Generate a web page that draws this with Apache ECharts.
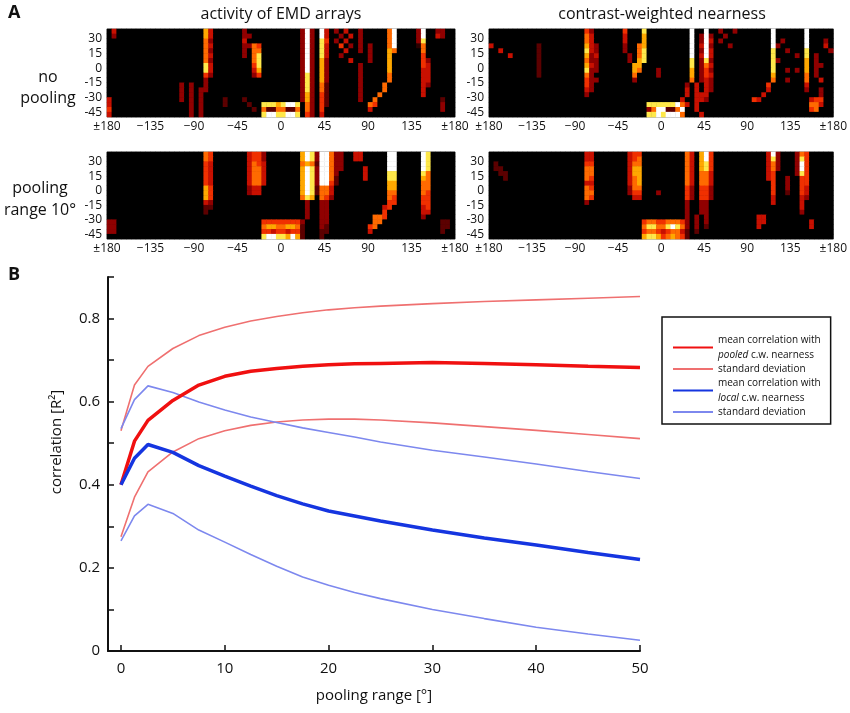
<!DOCTYPE html>
<html>
<head>
<meta charset="utf-8">
<script src="https://cdn.jsdelivr.net/npm/echarts@6/dist/echarts.min.js"></script>
<style>
  html, body { margin: 0; padding: 0; background: #fff; }
  #main { width: 850px; height: 713px; }
</style>
</head>
<body>
<div id="main"></div>
<script>
// ===== panel A: activity maps, one digit per 5x5 deg cell (0 = black ... 9 = white) =====
// columns: azimuth -180 .. 180 (groups of 9 cells = 45 deg), rows: elevation 40 (top) .. -50
var emdNoPool = [
  '040000000 000000000 007400000 030000000 000039309 403040030 000069000 039003300',
  '030000000 000000000 007400000 033000000 000039309 400304030 000069000 039004300',
  '000000000 000000000 006300000 040000000 000039308 503040030 000069000 038000000',
  '000000000 000000000 006400000 033650000 000039308 400503030 300069000 016000000',
  '000000000 000000000 006300000 030660000 000039308 400040030 300076000 006000000',
  '000000000 000000000 006400000 030680000 000039308 400300000 300070000 005000000',
  '000000000 000000000 006300000 000680000 000039307 300004000 300070000 005300000',
  '000000000 000000000 008400000 000580000 000039307 300000030 000070000 005400000',
  '000000000 000000000 008400000 000470000 000039307 300000030 000070000 004400000',
  '000000000 000000000 005300000 000350000 000038307 300000030 000060000 004400000',
  '000000000 000000000 003000000 000000000 000038307 300000030 000060000 004400000',
  '000000000 000000303 003000000 000000000 000038306 200000030 000600000 004300000',
  '000000000 000000303 033000000 000000000 000038306 200000030 000600000 004000000',
  '000000000 000000303 030000000 000000000 000037305 200000030 006000000 004000000',
  '400000000 000000303 030000200 020000000 000037305 200000030 060000000 000000200',
  '400000000 000000003 030000200 002008887 899806305 200000000 650000000 000000300',
  '500000000 000000003 030000000 000206226 622606305 000000000 400000000 000000300',
  '400000000 000000003 030000000 000008998 899805304 000000000 000000000 000000000'
];
var cwnNoPool = [
  '000000000 000000000 005300000 050008000 000000900 900300300 000009000 000900000',
  '000000000 000000000 006400000 040007000 000000903 930030000 000009000 000900000',
  '000000000 000000000 006400000 040007000 000000903 940300000 000009030 000900030',
  '400000000 020000000 007430000 030067000 000000904 930003000 000009300 000900040',
  '004000000 020000000 008430000 030068000 000000903 940000000 000008003 000800003',
  '000040000 020000000 007340000 003068000 000000904 940000000 000008000 030803000',
  '000000000 020000000 006330000 003078000 000000803 830000000 000008300 000703000',
  '000000000 020000000 007430000 000770000 000000803 640000000 000008000 000703300',
  '000000000 020000000 008330000 000760003 000000703 530000000 000008003 030703000',
  '000000000 020000000 006300000 000600003 000000703 540000000 000007000 000603000',
  '000000000 000000000 005330000 000300000 000000603 430000000 000006003 000600400',
  '000000000 000000000 005300000 000000000 000003040 430000000 000050000 000400000',
  '000000000 000000000 004300000 000000000 000004040 430000000 000040000 000300300',
  '000000000 000000000 003000000 000000000 000004044 400000000 000400000 000000300',
  '000000000 000000000 000000000 000000000 000040044 300000000 054000000 000045500',
  '000000000 000000000 000000000 000000888 888964040 000000000 000000000 000066400',
  '000000000 000000000 000000000 000000369 922690040 000000000 000000000 000056000',
  '000000000 000000000 000000000 000000889 899960004 000000000 000000000 000000000'
];
var emdPooled = [
  '000000000 000000000 006500000 004553000 000079839 963300440 000099000 009800000',
  '000000000 000000000 006500000 004553000 000079839 963300440 000099000 009800000',
  '000000000 000000000 005400000 004654000 000067629 963300000 000099000 009800000',
  '000000000 000000000 005400000 004664000 000079839 963300004 000099000 009800000',
  '000000000 000000000 005400000 004664000 000079839 963000004 000088000 008600000',
  '000000000 000000000 005400000 004664000 000079839 962000004 000088000 007600000',
  '000000000 000000000 005400000 004664000 000079839 952000000 000077000 006600000',
  '000000000 000000000 007500000 003440000 000079826 640000000 000077000 006600000',
  '000000000 000000000 007500000 003440000 000079826 640000000 000066000 006500000',
  '000000000 000000000 007500000 000000000 000068706 530000000 000065000 005500000',
  '000000000 000000000 004300000 000000000 000003003 300000000 000055000 005500000',
  '000000000 000000000 002200000 000000000 000003003 300000000 000450000 004500000',
  '000000000 000000000 002000000 000000000 000003003 300000000 000500000 004400000',
  '000000000 000000000 000000000 000000000 000003003 300000000 066500000 003000000',
  '330000000 000000000 000000000 000005555 555530003 300000000 066000000 000000220',
  '330000000 000000000 000000000 000006776 677620003 200000000 560000000 000000220',
  '330000000 000000000 000000000 000005545 545520002 200000000 400000000 000000200',
  '000000000 000000000 000000000 000008998 879720002 000000000 000000000 000000000'
];
var cwnPooled = [
  '000000000 000000000 004400000 004550000 000006407 950000000 000049300 036500000',
  '000000000 000000000 004400000 004560000 000006407 950000000 000048300 038500000',
  '020000000 000000000 005500000 004660000 000006407 850000000 000046300 039500000',
  '022000000 000000000 006600000 004770000 000006407 850000000 000046300 039500000',
  '002200000 000000000 006600000 004770000 000006406 640000000 000045000 038500000',
  '000200000 000000000 006500000 004670000 000006406 640000000 000045003 005500000',
  '000000000 000000000 004400000 004670000 000006406 640000000 000005003 005500000',
  '000000000 000000000 006500000 003660000 000005305 530000000 000005003 005400000',
  '000000000 000000000 006600000 003550003 000005305 530000000 000005002 005400000',
  '000000000 000000000 006500000 000440000 000005305 530000000 000004000 004300000',
  '000000000 000000000 003000000 000000000 000003003 300000000 000004000 004000000',
  '000000000 000000000 000000000 000000000 000003003 300000000 000000000 004000000',
  '000000000 000000000 000000000 000000000 000003003 300000000 000000000 003000000',
  '000000000 000000000 000000000 000000000 000003030 300000000 004400000 000000000',
  '000000000 000000000 000000000 000005665 566653030 300000000 004400000 000040000',
  '000000000 000000000 000000000 000006886 689863030 200000000 004000000 000040000',
  '000000000 000000000 000000000 000005665 456642020 000000000 000000000 000000000',
  '000000000 000000000 000000000 000007887 567652000 000000000 000000000 000000000'
];
var lonTicks = [-180, -135, -90, -45, 0, 45, 90, 135, 180];
var lonLabels = ['\u00b1180', '\u2212135', '\u221290', '\u221245', '0', '45', '90', '135', '\u00b1180'];
var latTicks = [-45, -30, -15, 0, 15, 30];
var latLabels = ['-45', '-30', '-15', '0', '15', '30'];

// ===== panel B: correlation vs pooling range =====
var poolRange   = [0, 1.3, 2.6, 5, 7.5, 10, 12.5, 15, 17.5, 20, 22.5, 25, 30, 35, 40, 45, 50];
var pooledMean  = [0.400, 0.505, 0.555, 0.603, 0.640, 0.661, 0.673, 0.680, 0.685, 0.689, 0.691, 0.692, 0.694, 0.692, 0.689, 0.685, 0.682];
var pooledUpper = [0.530, 0.640, 0.685, 0.728, 0.759, 0.779, 0.794, 0.805, 0.814, 0.821, 0.826, 0.830, 0.836, 0.841, 0.845, 0.849, 0.853];
var pooledLower = [0.275, 0.370, 0.431, 0.479, 0.511, 0.530, 0.543, 0.551, 0.556, 0.558, 0.558, 0.556, 0.549, 0.540, 0.531, 0.521, 0.511];
var localMean   = [0.400, 0.464, 0.497, 0.478, 0.446, 0.421, 0.397, 0.374, 0.354, 0.337, 0.325, 0.313, 0.291, 0.272, 0.255, 0.237, 0.220];
var localUpper  = [0.535, 0.605, 0.638, 0.622, 0.599, 0.580, 0.563, 0.550, 0.537, 0.526, 0.515, 0.503, 0.483, 0.467, 0.450, 0.432, 0.415];
var localLower  = [0.265, 0.325, 0.353, 0.331, 0.291, 0.262, 0.232, 0.204, 0.178, 0.158, 0.141, 0.126, 0.100, 0.078, 0.057, 0.041, 0.026];
var poolTicks = [0, 10, 20, 30, 40, 50];
var corrLabelTicks = [0, 0.2, 0.4, 0.6, 0.8];

var FONT = '"Open Sans", "Noto Sans", sans-serif';
var hotColors = ['#000000', '#2a0000', '#5c0000', '#900000', '#c81000', '#f03000', '#ff6a00', '#ffa800', '#ffe84a', '#ffffff'];

function cells(rows) {
  var out = [];
  rows.forEach(function (row, r) {
    var s = row.replace(/ /g, '');
    for (var c = 0; c < s.length; c++) {
      out.push([c, rows.length - 1 - r, +s[c]]);
    }
  });
  return out;
}
function pairs(xs, ys) {
  return xs.map(function (x, i) { return [x, ys[i]]; });
}

var colIdx = [], rowIdx = [];
for (var c = 0; c < 72; c++) colIdx.push(c);
for (var r = 0; r < 18; r++) rowIdx.push(r);

var maps = [emdNoPool, cwnNoPool, emdPooled, cwnPooled];
var mapGrids = [
  {left: 107, top: 29, width: 348, height: 88},
  {left: 489, top: 29, width: 347, height: 88},
  {left: 107, top: 152, width: 348, height: 87},
  {left: 489, top: 152, width: 347, height: 87}
];

var grids = [], xAxes = [], yAxes = [], series = [];
maps.forEach(function (m, i) {
  var g = mapGrids[i];
  grids.push({left: g.left, top: g.top, width: g.width, height: g.height,
    show: true, backgroundColor: '#000', borderColor: '#777', borderWidth: 1});
  xAxes.push({type: 'category', gridIndex: i, data: colIdx, show: false, position: 'top'});
  xAxes.push({
    type: 'value', gridIndex: i, min: -180, max: 180, interval: 45, position: 'bottom',
    axisLine: {show: false}, axisTick: {show: false}, splitLine: {show: false},
    axisLabel: {fontSize: 12, color: '#111', margin: 4, fontFamily: FONT,
      formatter: function (v) { return lonLabels[lonTicks.indexOf(v)]; }}
  });
  yAxes.push({type: 'category', gridIndex: i, data: rowIdx, show: false, position: 'right'});
  yAxes.push({
    type: 'value', gridIndex: i, min: -50, max: 40, position: 'left',
    axisLine: {show: false}, axisTick: {show: false}, splitLine: {show: false},
    axisLabel: {fontSize: 12, color: '#111', margin: 5, fontFamily: FONT, customValues: latTicks,
      formatter: function (v) { return latLabels[latTicks.indexOf(v)]; }}
  });
  series.push({
    type: 'heatmap', xAxisIndex: 2 * i, yAxisIndex: 2 * i, data: cells(m),
    progressive: 0, emphasis: {disabled: true}, itemStyle: {borderWidth: 0}
  });
});

// line chart grid
grids.push({left: 108, top: 277, width: 532, height: 374});
xAxes.push({
  type: 'value', gridIndex: 4, min: -1.25, max: 50,
  name: 'pooling range [\u00b0]', nameLocation: 'middle', nameGap: 37,
  nameTextStyle: {fontSize: 15, color: '#111', fontFamily: FONT},
  axisLine: {onZero: false, lineStyle: {color: '#111', width: 2}},
  axisTick: {inside: true, length: 6, customValues: poolTicks, lineStyle: {color: '#111', width: 1.5}},
  axisLabel: {customValues: poolTicks, fontSize: 15, color: '#111', margin: 10, fontFamily: FONT},
  splitLine: {show: false}
});
yAxes.push({
  type: 'value', gridIndex: 4, min: 0, max: 0.9, interval: 0.1,
  name: 'correlation [R\u00b2]', nameLocation: 'middle', nameGap: 44,
  nameTextStyle: {fontSize: 15, color: '#111', fontFamily: FONT, padding: [0, 0, 0, 44]},
  axisLine: {show: true, onZero: false, lineStyle: {color: '#111', width: 2}},
  axisTick: {inside: true, length: 6, lineStyle: {color: '#111', width: 1.5}},
  axisLabel: {customValues: corrLabelTicks, fontSize: 15, color: '#111', margin: 8, fontFamily: FONT,
    formatter: function (v) { return v === 0 ? '0' : v.toFixed(1); }},
  splitLine: {show: false}
});

var pooledColor = '#f01010', pooledSDColor = '#ef7070';
var localColor = '#1535e0', localSDColor = '#7d88ee';
function line(name, data, color, width, z) {
  return {
    type: 'line', name: name, xAxisIndex: 8, yAxisIndex: 8, data: data,
    symbol: 'none', smooth: false, z: z, silent: true,
    lineStyle: {color: color, width: width}, itemStyle: {color: color}
  };
}
series.push(line('pooledSD', pairs(poolRange, pooledUpper), pooledSDColor, 1.6, 2));
series.push(line('pooledSD', pairs(poolRange, pooledLower), pooledSDColor, 1.6, 2));
series.push(line('localSD', pairs(poolRange, localUpper), localSDColor, 1.6, 2));
series.push(line('localSD', pairs(poolRange, localLower), localSDColor, 1.6, 2));
series.push(line('pooledMean', pairs(poolRange, pooledMean), pooledColor, 3.5, 3));
series.push(line('localMean', pairs(poolRange, localMean), localColor, 3.5, 3));

var legendText = {
  pooledMean: '{t|mean correlation with}\n{i|pooled}{t| c.w. nearness}',
  pooledSD: '{t|standard deviation}',
  localMean: '{t|mean correlation with}\n{i|local}{t| c.w. nearness}',
  localSD: '{t|standard deviation}'
};

var chart = echarts.init(document.getElementById('main'));
chart.setOption({
  animation: false,
  backgroundColor: '#fff',
  textStyle: {fontFamily: FONT},
  grid: grids,
  xAxis: xAxes,
  yAxis: yAxes,
  visualMap: {
    type: 'continuous', show: false, min: 0, max: 9, dimension: 2,
    seriesIndex: [0, 1, 2, 3], inRange: {color: hotColors}
  },
  legend: {
    data: ['pooledMean', 'pooledSD', 'localMean', 'localSD'],
    orient: 'vertical', left: 662, top: 317,
    padding: [18, 10, 7, 10], itemGap: 4,
    itemWidth: 40, itemHeight: 12,
    borderColor: '#111', borderWidth: 1.5,
    selectedMode: false,
    itemStyle: {opacity: 0},
    formatter: function (name) { return legendText[name]; },
    textStyle: {
      rich: {
        t: {fontSize: 10, lineHeight: 15, color: '#111', fontFamily: FONT},
        i: {fontSize: 10, lineHeight: 15, color: '#111', fontStyle: 'italic', fontFamily: FONT}
      }
    }
  },
  graphic: [
    {type: 'text', x: 8, y: 4, style: {text: 'A', font: 'bold 18px ' + FONT, fill: '#111'}},
    {type: 'text', x: 8, y: 266, style: {text: 'B', font: 'bold 18px ' + FONT, fill: '#111'}},
    {type: 'text', x: 281, y: 14, style: {text: 'activity of EMD arrays', font: '16px ' + FONT, fill: '#111', align: 'center', verticalAlign: 'middle'}},
    {type: 'text', x: 662, y: 14, style: {text: 'contrast-weighted nearness', font: '16px ' + FONT, fill: '#111', align: 'center', verticalAlign: 'middle'}},
    {type: 'text', x: 48, y: 88, style: {text: 'no\npooling', font: '16px ' + FONT, lineHeight: 21, fill: '#111', align: 'center', verticalAlign: 'middle'}},
    {type: 'text', x: 40, y: 199, style: {text: 'pooling\nrange 10\u00b0', font: '16px ' + FONT, lineHeight: 22, fill: '#111', align: 'center', verticalAlign: 'middle'}}
  ],
  series: series
});
</script>
</body>
</html>
